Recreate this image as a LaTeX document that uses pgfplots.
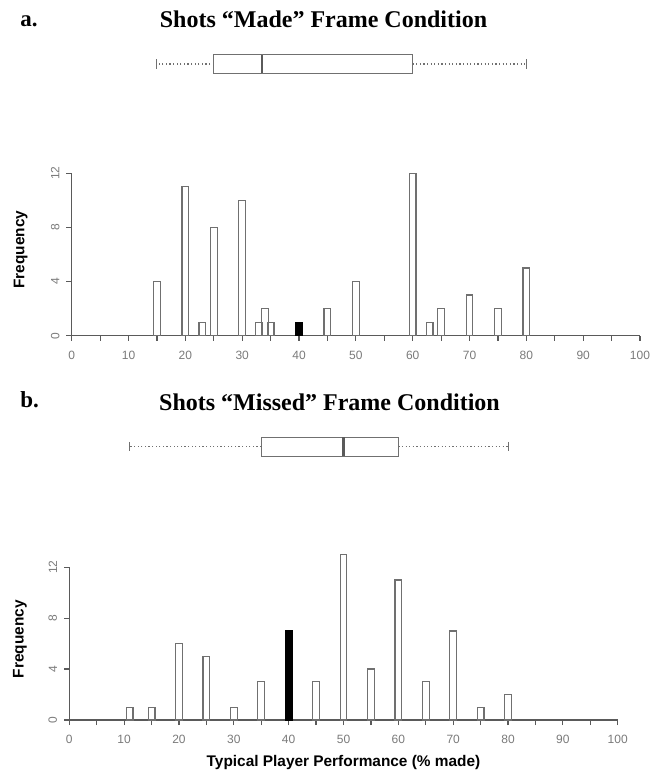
\documentclass[border=0pt]{standalone}
\usepackage{fontspec}
\setmainfont{Liberation Sans}
\newfontfamily\titlefont{Liberation Serif}
\usepackage{pgfplots}
\pgfplotsset{compat=1.18}
\usepgfplotslibrary{statistics}

\definecolor{axgray}{HTML}{5A5A5A}
\definecolor{bargray}{HTML}{707070}
\definecolor{txtgray}{HTML}{7A7A7A}

\pgfplotsset{
  histax/.style={
    scale only axis,
    xmin=0, xmax=100, ymin=0, ymax=12,
    axis x line=bottom, axis y line=left,
    axis line style={-, axgray, line width=0.7pt},
    clip=false,
    xtick={0,10,...,100}, minor xtick={5,15,...,95},
    ytick={0,4,8,12},
    tick align=outside,
    major tick length=2.6pt, minor tick length=2.6pt,
    every tick/.style={axgray, line width=0.6pt},
    every minor tick/.style={axgray, line width=0.6pt},
    ticklabel style={font=\fontsize{6}{7}\selectfont, text=txtgray},
    xticklabel style={yshift=-1.5pt},
    yticklabel style={anchor=south, rotate=90},
    /pgf/number format/assume math mode=true,
    ylabel={Frequency},
    ylabel style={at={(axis description cs:-0.09,0.53)}, anchor=center,
      font=\bfseries\fontsize{7.7}{9}\selectfont},
  },
  whitebar/.style={ybar, bar width=3.35pt, fill=white, draw=bargray, line width=0.6pt},
  blackbar/.style={ybar, bar width=3.35pt, fill=black, draw=black, line width=0.6pt},
  boxax/.style={scale only axis, height=22pt, xmin=0, xmax=100, ymin=0, ymax=2,
    hide axis, clip=false},
  boxsty/.style={draw=bargray, fill=white, line width=0.5pt,
    boxplot/every whisker/.style={dash pattern=on 0.6pt off 1.2pt, line width=0.6pt},
    boxplot/every median/.style={line width=1.2pt, draw=axgray}},
  capsty/.style={only marks, mark=|, mark size=2.4pt,
    mark options={draw=bargray, line width=0.5pt}},
}

\begin{document}
\begin{tikzpicture}

% ---- panel a ----
\node[anchor=base west, inner sep=0pt, font=\titlefont\bfseries\fontsize{11.5}{13}\selectfont] at (10pt,374.15pt) {a.};
\node[anchor=base, font=\titlefont\bfseries\fontsize{12}{14}\selectfont] at (161.75pt,373.85pt) {Shots “Made” Frame Condition};

\begin{axis}[boxax, at={(35.85pt,344.5pt)}, anchor=south west, width=284.15pt]
\addplot[boxplot prepared={lower whisker=15, lower quartile=25, median=33.5,
    upper quartile=60, upper whisker=80, draw position=1, box extend=0.86,
    whisker extend=0, draw direction=x}, boxsty] coordinates {};
\addplot[capsty] coordinates {(15,1) (80,1)};
\end{axis}

\begin{axis}[histax, at={(35.85pt,219.65pt)}, anchor=south west,
  width=284.15pt, height=81.2pt]
\addplot[whitebar] coordinates {
  (15,4) (20,11) (23,1) (25,8) (30,10) (33,1) (34,2) (35,1) (45,2)
  (50,4) (60,12) (63,1) (65,2) (70,3) (75,2) (80,5)};
\addplot[blackbar] coordinates {(40,1)};
\end{axis}

% ---- panel b ----
\node[anchor=base west, inner sep=0pt, font=\titlefont\bfseries\fontsize{11.5}{13}\selectfont] at (10pt,183.85pt) {b.};
\node[anchor=base, font=\titlefont\bfseries\fontsize{12}{14}\selectfont] at (164.75pt,182.15pt) {Shots “Missed” Frame Condition};

\begin{axis}[boxax, at={(34.65pt,153.15pt)}, anchor=south west, width=274.2pt]
\addplot[boxplot prepared={lower whisker=11, lower quartile=35, median=50,
    upper quartile=60, upper whisker=80, draw position=1, box extend=0.85,
    whisker extend=0, draw direction=x}, boxsty] coordinates {};
\addplot[capsty] coordinates {(11,1) (80,1)};
\end{axis}

\begin{axis}[histax, at={(34.65pt,27.5pt)}, anchor=south west,
  width=274.2pt, height=76.35pt,
  xlabel={Typical Player Performance (\% made)},
  xlabel style={at={(axis description cs:0.5,-0.28)}, anchor=center,
    font=\bfseries\fontsize{7.7}{9}\selectfont}]
\addplot[whitebar] coordinates {
  (11,1) (15,1) (20,6) (25,5) (30,1) (35,3) (45,3) (50,13)
  (55,4) (60,11) (65,3) (70,7) (75,1) (80,2)};
\addplot[blackbar] coordinates {(40,7)};
\end{axis}

\pgfresetboundingbox
\useasboundingbox (0,0) rectangle (324.5pt,387.5pt);
\end{tikzpicture}
\end{document}
